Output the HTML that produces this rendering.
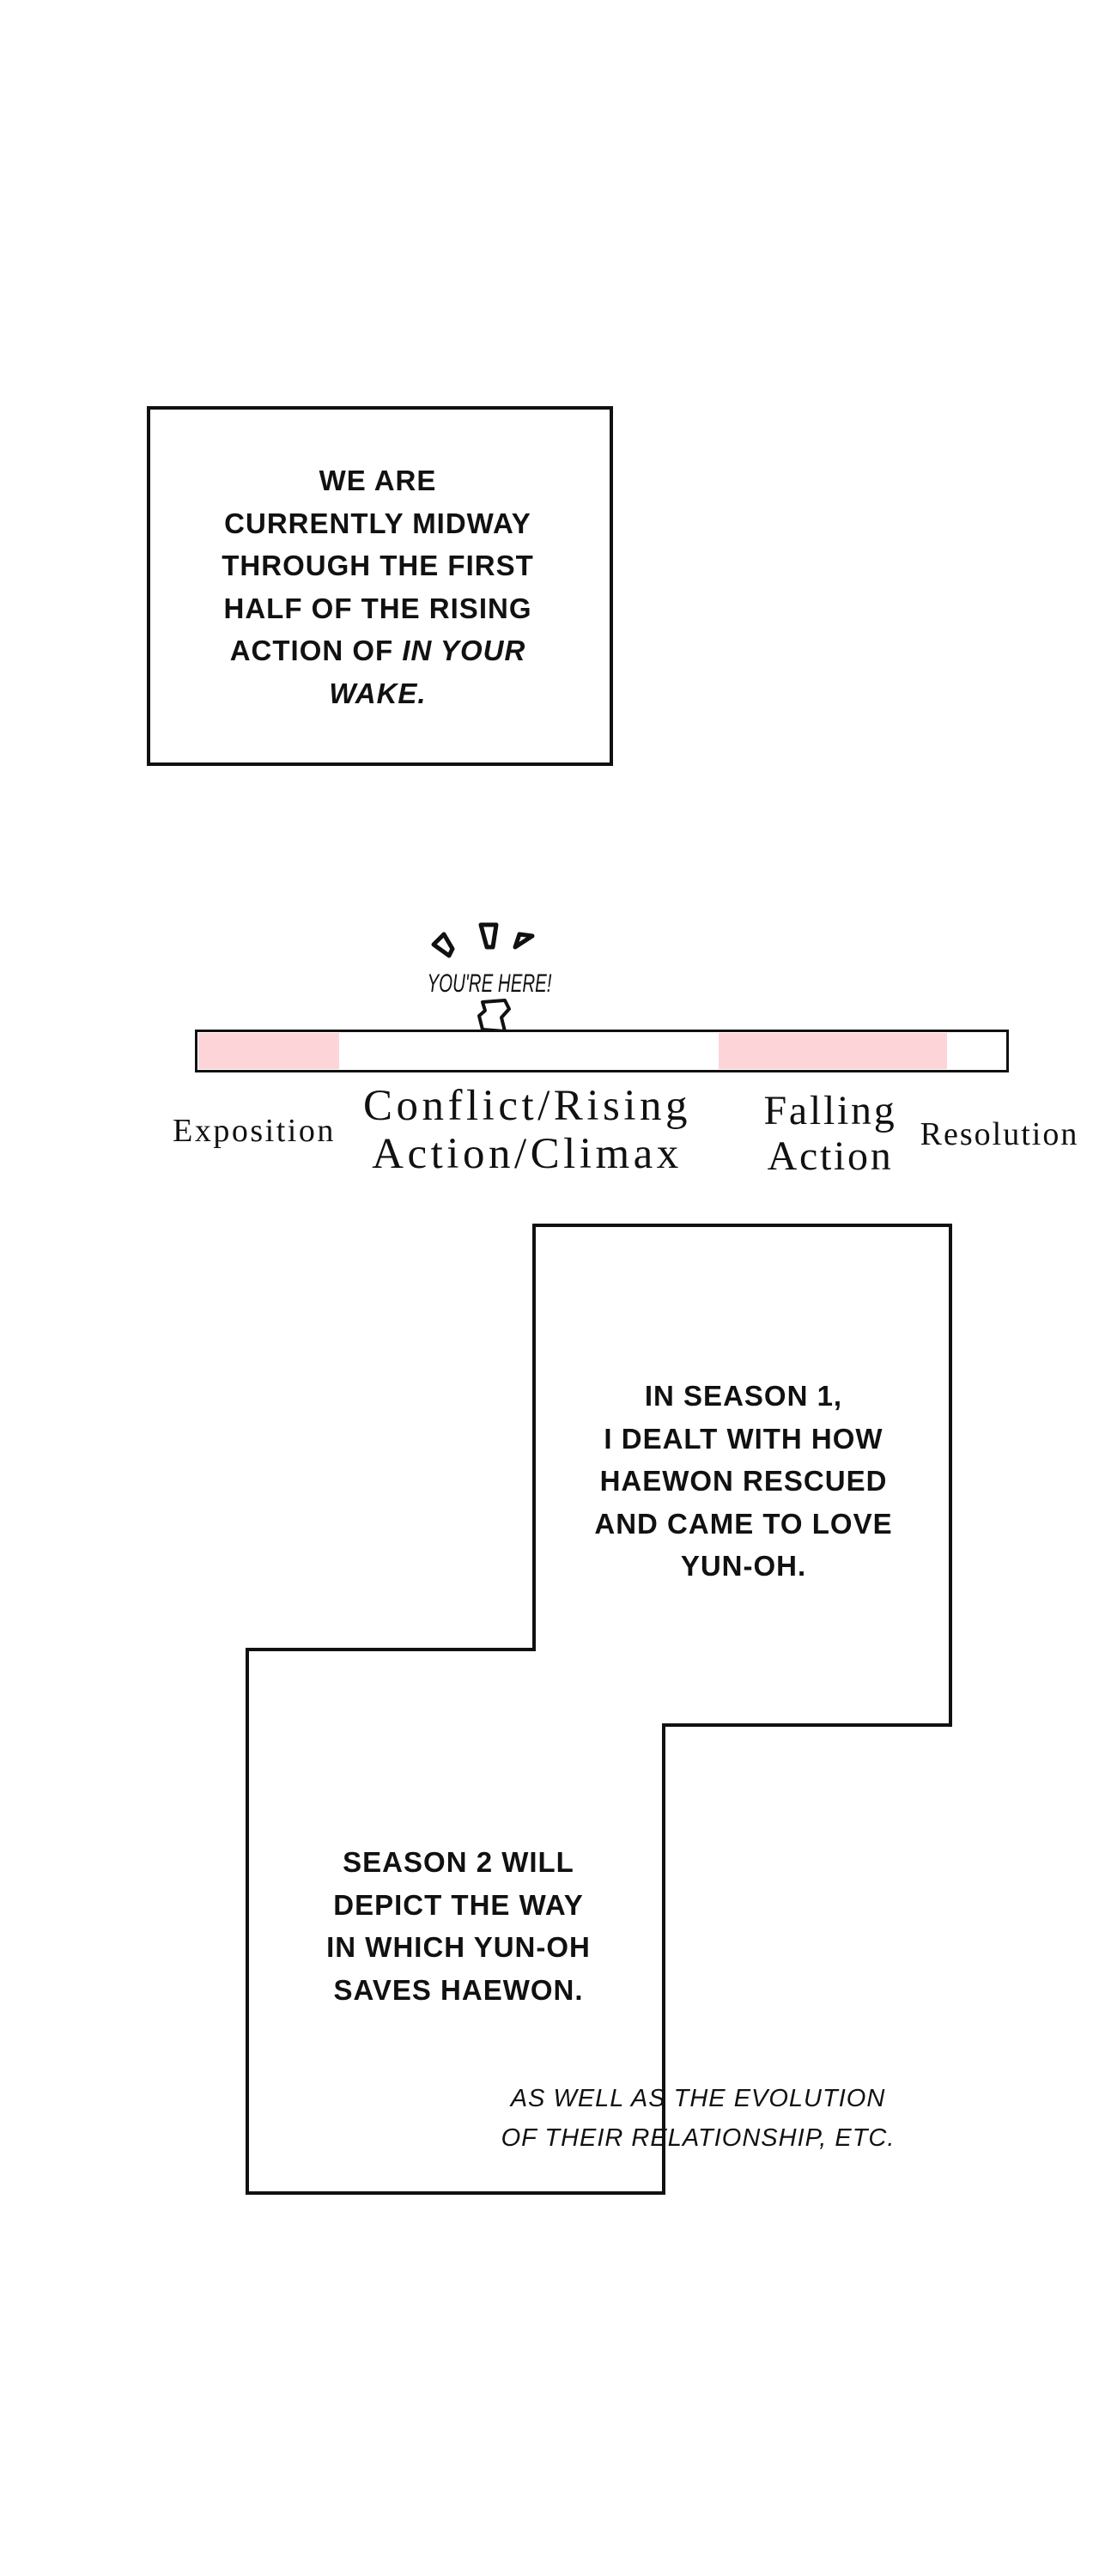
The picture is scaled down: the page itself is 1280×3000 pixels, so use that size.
<!DOCTYPE html>
<html><head><meta charset="utf-8"><style>
body{margin:0;width:1280px;height:3000px;background:#fff;position:relative;overflow:hidden;font-family:"Liberation Sans",sans-serif}
.a{position:absolute}
.c{font-weight:bold;font-size:33px;letter-spacing:1px;text-align:center;line-height:49.5px;color:#111}
.s{font-family:"Liberation Serif",serif;color:#111;text-align:center;white-space:nowrap}
</style></head><body>
<div class="a" style="left:171px;top:473px;width:535px;height:411px;border:4px solid #111"></div>
<div class="a c" style="left:190px;width:500px;top:535px">WE ARE<br>CURRENTLY MIDWAY<br>THROUGH THE FIRST<br>HALF OF THE RISING<br>ACTION OF <i>IN YOUR<br>WAKE.</i></div>

<svg class="a" style="left:470px;top:1055px" width="200" height="160">
<g fill="none" stroke="#111" stroke-width="5" stroke-linejoin="round">
<path d="M35 45 L47 33 L57 50 L53 58 Z"/>
<path d="M90 22 L108 22 L104 48 L97 48 Z"/>
<path d="M130 48 L135 33 L150 35 Z"/>
<path d="M92 112 L118 110 L123 120 L114 130 L118 146 L92 144 L88 128 L95 122 Z" stroke-width="4"/>
</g>
<text x="100" y="100" text-anchor="middle" font-family="Liberation Sans Narrow,Liberation Sans,sans-serif" font-size="30" font-style="italic" textLength="145" lengthAdjust="spacingAndGlyphs" fill="#111">YOU'RE HERE!</text>
</svg>

<div class="a" style="left:227px;top:1199px;width:942px;height:44px;border:3px solid #111;background:#fff"></div>
<div class="a" style="left:231px;top:1203px;width:164px;height:42px;background:#fdd5d8"></div>
<div class="a" style="left:837px;top:1203px;width:266px;height:42px;background:#fdd5d8"></div>

<div class="a s" style="left:146px;width:300px;top:1295px;font-size:38px;letter-spacing:2.5px">Exposition</div>
<div class="a s" style="left:364px;width:500px;top:1260px;font-size:51px;line-height:56px;letter-spacing:4.5px">Conflict/Rising<br>Action/Climax</div>
<div class="a s" style="left:817px;width:300px;top:1267px;font-size:48px;line-height:53px;letter-spacing:2.7px">Falling<br>Action</div>
<div class="a s" style="left:1014px;width:300px;top:1299px;font-size:38px;letter-spacing:2px">Resolution</div>

<svg class="a" style="left:0;top:0" width="1280" height="3000">
<polygon points="622,1427 1107,1427 1107,2009 773,2009 773,2554 288,2554 288,1921 622,1921" fill="none" stroke="#111" stroke-width="4"/>
</svg>
<div class="a c" style="left:616px;width:500px;top:1601px">IN SEASON 1,<br>I DEALT WITH HOW<br>HAEWON RESCUED<br>AND CAME TO LOVE<br>YUN-OH.</div>
<div class="a c" style="left:284px;width:500px;top:2144px">SEASON 2 WILL<br>DEPICT THE WAY<br>IN WHICH YUN-OH<br>SAVES HAEWON.</div>
<div class="a c" style="left:513px;width:600px;top:2421px;font-size:29px;line-height:46px;font-style:italic;font-weight:normal">AS WELL AS THE EVOLUTION<br>OF THEIR RELATIONSHIP, ETC.</div>
</body></html>
